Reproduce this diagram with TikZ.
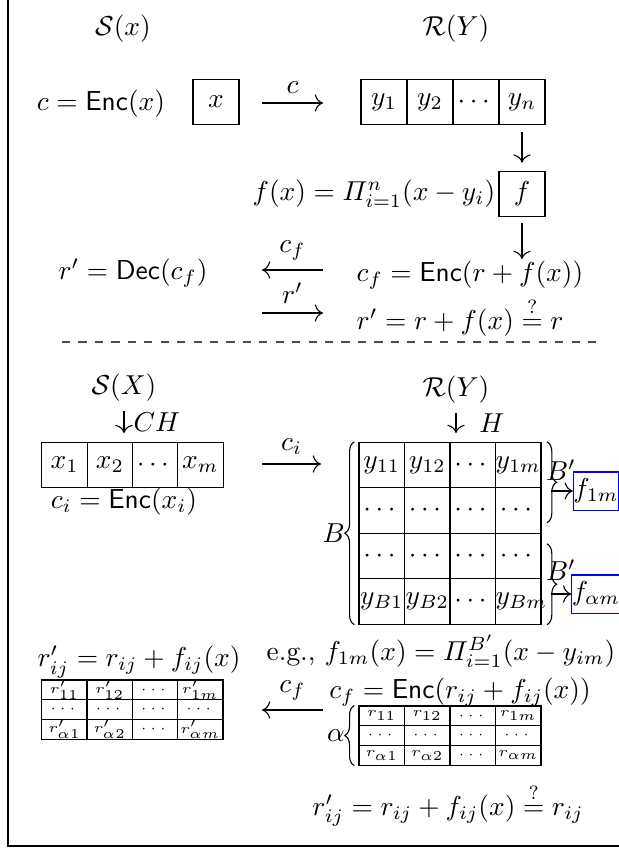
\documentclass[tikz,border=0pt]{standalone}
\usepackage{amsmath}
\usetikzlibrary{arrows.meta,decorations.pathreplacing}

\tikzset{
  cell/.style={draw, minimum height=16.5pt, text width=16.6pt, align=center, inner sep=0pt},
  tinycell/.style={draw, minimum height=7.2pt, text width=16.6pt, align=center, inner sep=0pt, font=\tiny},
  fbox/.style={draw=blue, minimum width=14.6pt, minimum height=13.9pt, inner sep=0pt},
  arr/.style={-{To[length=3pt]}},
  brace/.style={decorate, decoration={brace, amplitude=3.5pt}},
}

\begin{document}
\begin{tikzpicture}[x=0.365pt, y=-0.365pt]
  \useasboundingbox (0,0) rectangle (619,851);
  \draw[line width=0.6pt] (8,0) -- (8,846) -- (619,846);

  % one element
  \node (Sx) at (123,29) {$\mathcal{S}(x)$};
  \node (Ry) at (456,29) {$\mathcal{R}(Y)$};
  \node (cenc) at (101,104) {$c=\mathsf{Enc}(x)$};
  \node[cell, text width=16.8pt] (x) at (216,102) {$x$};
  \foreach \l [count=\i] in {y_1,y_2,\cdots,y_n}
    \node[cell, text width=16.8pt] (y\i) at ({338+46*\i},102) {$\l$};
  \coordinate (c0) at (262,103); \coordinate (c1) at (323,103);
  \draw[arr] (c0) -- node[above] {$c$} (c1);
  \node[cell, text width=16.8pt] (f) at (522,194) {$f$};
  \node[anchor=east, inner sep=1pt] (fdef) at (f.west) {$f(x)=\varPi_{i=1}^{n}(x-y_i)$};
  \draw[arr, shorten <=2.5pt, shorten >=3pt] (y4) -- (f);
  \coordinate (ftip) at (522,259);
  \draw[arr, shorten <=2pt] (f) -- (ftip);
  \node (rdec) at (133,273) {$r'=\mathsf{Dec}(c_f)$};
  \node[anchor=west] (cf) at (347,275) {$c_f=\mathsf{Enc}(r+f(x))$};
  \coordinate (cf0) at (323,270); \coordinate (cf1) at (262,270);
  \draw[arr] (cf0) -- node[above] {$c_f$} (cf1);
  \coordinate (r0) at (262,313); \coordinate (r1) at (323,313);
  \draw[arr] (r0) -- node[above] {$r'$} (r1);
  \node[anchor=west] (rchk) at (347,317) {$r'=r+f(x)\stackrel{?}{=}r$};
  \draw[dashed, black!70] (62,342) -- (600,342);

  % many elements
  \node (SX) at (124,388) {$\mathcal{S}(X)$};
  \node (RY) at (456,390) {$\mathcal{R}(Y)$};
  \coordinate (chtip) at (124,433);
  \draw[arr] (SX) -- node[right] {$CH$} (chtip);
  \coordinate (htip) at (456,433);
  \draw[arr] (RY) -- node[right=5pt] {$H$} (htip);
  \foreach \l [count=\i] in {x_1,x_2,\cdots,x_m}
    \node[cell] (x\i) at ({19.4+45.25*\i},465) {$\l$};
  \node (cienc) at (124,502) {$c_i=\mathsf{Enc}(x_i)$};
  \coordinate (ci0) at (262,464); \coordinate (ci1) at (321,464);
  \draw[arr] (ci0) -- node[above] {$c_i$} (ci1);
  \foreach \row [count=\r] in {{y_{11},y_{12},\cdots,y_{1m}},{\cdots,\cdots,\cdots,\cdots},{\cdots,\cdots,\cdots,\cdots},{y_{B1},y_{B2},\cdots,y_{Bm}}}
    \foreach \e [count=\k] in \row
      \node[cell] (m\r\k) at ({336.25+45.5*\k},{419.5+45.5*\r}) {$\e$};
  \draw[brace] ([xshift=-1.5pt]m41.south west) -- node[left=0pt] (Blab) {$B$} ([xshift=-1.5pt]m11.north west);
  \draw[brace] ([xshift=2pt]m14.north east) -- ([xshift=2pt,yshift=4pt]m24.south east);
  \draw[brace] ([xshift=2pt,yshift=-4pt]m34.north east) -- ([xshift=2pt]m44.south east);
  \node (Bp1) at (561,470) {$B'$};
  \node (Bp2) at (561,570) {$B'$};
  \node[fbox] (f1m) at (596,491) {$f_{1m}$};
  \node[fbox] (fam) at (596,594) {$f_{\alpha m}$};
  \coordinate (t1) at (551,491); \coordinate (t2) at (551,594);
  \draw[arr] (t1) -- (f1m);
  \draw[arr] (t2) -- (fam);
  \node (eg) at (441,651) {e.g., $f_{1m}(x)=\varPi_{i=1}^{B'}(x-y_{im})$};

  % results
  \node (rij) at (139,662) {$r'_{ij}=r_{ij}+f_{ij}(x)$};
  \foreach \row [count=\r] in {{r'_{11},r'_{12},\cdots,r'_{1m}},{\cdots,\cdots,\cdots,\cdots},{r'_{\alpha1},r'_{\alpha2},\cdots,r'_{\alpha m}}}
    \foreach \e [count=\k] in \row
      \node[tinycell] (p\r\k) at ({19.25+45.25*\k},{670.2+19.7*\r}) {$\e$};
  \node (cf2) at (460,692) {$c_f=\mathsf{Enc}(r_{ij}+f_{ij}(x))$};
  \coordinate (d0) at (323,710); \coordinate (d1) at (262,710);
  \draw[arr] (d0) -- node[above] {$c_f$} (d1);
  \foreach \row [count=\r] in {{r_{11},r_{12},\cdots,r_{1m}},{\cdots,\cdots,\cdots,\cdots},{r_{\alpha1},r_{\alpha2},\cdots,r_{\alpha m}}}
    \foreach \e [count=\k] in \row
      \node[tinycell] (a\r\k) at ({336.25+45.5*\k},{696.15+19.7*\r}) {$\e$};
  \draw[brace] ([xshift=-1.5pt]a31.south west) -- node[left=0pt] (alab) {$\alpha$} ([xshift=-1.5pt]a11.north west);
  \node (rchk2) at (448,805) {$r'_{ij}=r_{ij}+f_{ij}(x)\stackrel{?}{=}r_{ij}$};
\end{tikzpicture}
\end{document}
